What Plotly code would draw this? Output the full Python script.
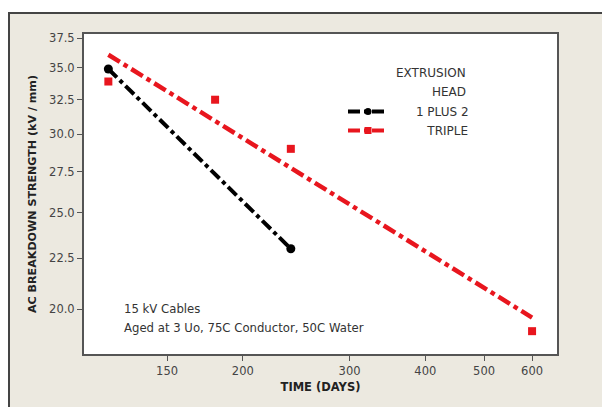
import numpy as np
import plotly.graph_objects as go

# ---- data ----
days_12 = [120, 240]
str_12 = [34.9, 23.0]
days_tr = [120, 180, 240, 600]
str_tr = [33.9, 32.5, 29.0, 19.0]

x_ticks = [150, 200, 300, 400, 500, 600]
y_ticks = [20.0, 22.5, 25.0, 27.5, 30.0, 32.5, 35.0, 37.5]

name_12 = "1 PLUS 2"
name_tr = "TRIPLE"

BLACK = "#000000"
RED = "#E8161E"
FONT = "DejaVu Sans"


def loglog_fit(x, y):
    lx, ly = np.log10(x), np.log10(y)
    b, a = np.polyfit(lx, ly, 1)
    xs = np.array([min(x), max(x)], dtype=float)
    return xs, 10 ** (a + b * np.log10(xs))


fx12, fy12 = loglog_fit(days_12, str_12)
fxtr, fytr = loglog_fit(days_tr, str_tr)

fig = go.Figure()
# fitted lines
fig.add_trace(go.Scatter(x=fx12, y=fy12, mode="lines", showlegend=False,
                         line=dict(color=BLACK, width=4, dash="dashdot"),
                         hoverinfo="skip"))
fig.add_trace(go.Scatter(x=fxtr, y=fytr, mode="lines", showlegend=False,
                         line=dict(color=RED, width=4.5, dash="dashdot"),
                         hoverinfo="skip"))
# data points
fig.add_trace(go.Scatter(x=days_12, y=str_12, mode="markers", showlegend=False,
                         marker=dict(symbol="circle", size=9, color=BLACK)))
fig.add_trace(go.Scatter(x=days_tr, y=str_tr, mode="markers", showlegend=False,
                         marker=dict(symbol="square", size=8, color=RED)))
# legend entries
pad = "\u00a0"
fig.add_trace(go.Scatter(x=[None], y=[None], mode="lines+markers",
                         name=pad * 6 + name_12,
                         line=dict(color=BLACK, width=4, dash="dashdot"),
                         marker=dict(symbol="circle", size=7, color=BLACK)))
fig.add_trace(go.Scatter(x=[None], y=[None], mode="lines+markers",
                         name=pad * 9 + name_tr,
                         line=dict(color=RED, width=4, dash="dashdot"),
                         marker=dict(symbol="square", size=7, color=RED)))

W, H = 602, 407
L, T = 84, 34
R = W - 557
B = H - 354
pw, ph = W - L - R, H - T - B


def px(sx):
    return (sx - L) / pw


def py(sy):
    return (H - B - sy) / ph


fig.update_layout(
    width=W, height=H,
    margin=dict(l=L, r=R, t=T, b=B, pad=0, autoexpand=False),
    paper_bgcolor="white",
    plot_bgcolor="white",
    font=dict(family=FONT, size=12, color="#333333"),
    showlegend=True,
    legend=dict(x=px(343), y=py(97), xanchor="left", yanchor="top",
                bgcolor="rgba(0,0,0,0)", borderwidth=0, itemwidth=40,
                font=dict(family=FONT, size=12, color="#333333"),
                title=dict(text="")),
    shapes=[
        dict(type="rect", xref="paper", yref="paper", layer="below",
             x0=px(9), x1=px(660), y0=py(460), y1=py(13),
             fillcolor="#ECE9E0", line=dict(color="#444444", width=2)),
        dict(type="rect", xref="paper", yref="paper", layer="below",
             x0=0, x1=1, y0=0, y1=1, fillcolor="white", line=dict(width=0)),
    ],
    annotations=[
        dict(text="15 kV Cables", xref="paper", yref="paper",
             x=px(122), y=py(309), xanchor="left", yanchor="middle",
             showarrow=False, font=dict(size=11.7, color="#333333")),
        dict(text="Aged at 3 Uo, 75C Conductor, 50C Water", xref="paper", yref="paper",
             x=px(122), y=py(327.5), xanchor="left", yanchor="middle",
             showarrow=False, font=dict(size=11.7, color="#333333")),
        dict(text="EXTRUSION", xref="paper", yref="paper",
             x=px(468), y=py(73), xanchor="right", yanchor="middle",
             showarrow=False, font=dict(size=12, color="#333333")),
        dict(text="HEAD", xref="paper", yref="paper",
             x=px(468), y=py(92), xanchor="right", yanchor="middle",
             showarrow=False, font=dict(size=12, color="#333333")),
    ],
)

fig.update_xaxes(
    type="log", range=[np.log10(109.4), np.log10(659.6)], automargin=False,
    tickvals=x_ticks, ticktext=[str(v) for v in x_ticks],
    ticks="outside", ticklen=5, tickwidth=1, tickcolor="#555555",
    showline=True, linecolor="#555555", linewidth=2, mirror=True,
    showgrid=False, zeroline=False,
    tickfont=dict(size=11.5, color="#444444"),
    title=dict(text="<b>TIME (DAYS)</b>", font=dict(size=11.5, color="#222222"),
               standoff=6),
)
fig.update_yaxes(
    type="log", range=[np.log10(18.02), np.log10(37.85)], automargin=False,
    tickvals=y_ticks, ticktext=[f"{v:.1f}" for v in y_ticks],
    ticks="outside", ticklen=5, tickwidth=1, tickcolor="#555555",
    showline=True, linecolor="#555555", linewidth=2, mirror=True,
    showgrid=False, zeroline=False,
    tickfont=dict(size=11.5, color="#444444"),
    title=dict(text="<b>AC BREAKDOWN STRENGTH (kV / mm)</b>",
               font=dict(size=11.1, color="#222222"), standoff=10),
)

fig.write_html(
    "out.html",
    config={"displayModeBar": False},
    post_script="document.body.style.margin='0';document.body.style.overflow='hidden';",
)
